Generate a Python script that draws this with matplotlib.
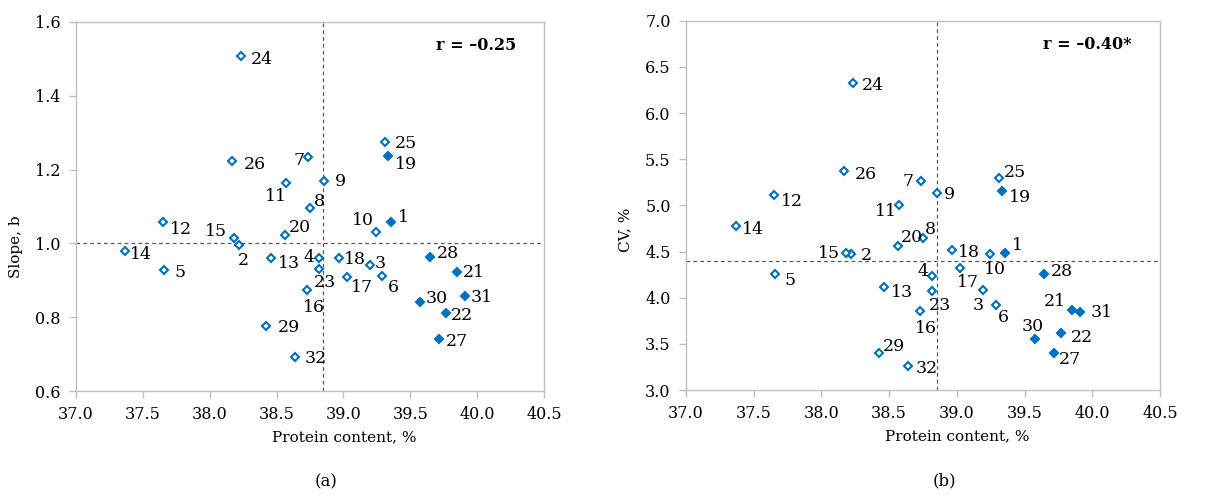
import numpy as np
import matplotlib
matplotlib.use('Agg')
import matplotlib.pyplot as plt

# genotype numbers and values
ids = list(range(1, 33))
protein = [39.355, 38.222, 39.196, 38.817, 37.658, 39.290, 38.735, 38.747,
           38.852, 39.243, 38.574, 37.650, 38.460, 37.366, 38.178, 38.728,
           39.024, 38.966, 39.335, 38.565, 39.850, 39.767, 38.818, 38.236,
           39.308, 38.170, 39.715, 39.646, 38.424, 39.576, 39.911, 38.636]
slope = [1.058, 0.997, 0.941, 0.961, 0.929, 0.912, 1.234, 1.096,
         1.170, 1.032, 1.164, 1.058, 0.961, 0.979, 1.015, 0.873,
         0.909, 0.961, 1.236, 1.022, 0.922, 0.811, 0.931, 1.507,
         1.276, 1.223, 0.741, 0.963, 0.776, 0.841, 0.857, 0.692]
cv = [4.488, 4.470, 4.083, 4.235, 4.260, 3.918, 5.264, 4.643,
      5.134, 4.470, 5.004, 5.113, 4.119, 4.773, 4.481, 3.853,
      4.318, 4.517, 5.156, 4.563, 3.870, 3.621, 4.069, 6.326,
      5.300, 5.369, 3.401, 4.253, 3.401, 3.553, 3.845, 3.257]
filled_ids = [1, 19, 21, 22, 27, 28, 30, 31]
mean_protein = 38.85
mean_slope = 1.0
mean_cv = 4.40
r_texts = ['r = \u20130.25', 'r = \u20130.40*']

# label placement: (ha, dx px, dy px down)
offs_a = {1: ('l', 7, -5), 2: ('c', 4, 16), 3: ('l', 5, -2), 4: ('r', -4, 0),
          5: ('l', 11, 3), 6: ('l', 6, 12), 7: ('r', -3, 3), 8: ('l', 4, -6),
          9: ('l', 11, 1), 10: ('r', -2, -11), 11: ('r', 0, 14), 12: ('l', 7, 7),
          13: ('l', 7, 6), 14: ('l', 5, 3), 15: ('r', -6, -6), 16: ('c', 7, 17),
          17: ('l', 4, 10), 18: ('l', 5, 2), 19: ('l', 7, 8), 20: ('l', 4, -8),
          21: ('l', 6, 0), 22: ('l', 5, 2), 23: ('l', -5, 14), 24: ('l', 10, 3),
          25: ('l', 10, 2), 26: ('l', 11, 3), 27: ('l', 7, 2), 28: ('l', 7, -4),
          29: ('l', 11, 1), 30: ('l', 5, -4), 31: ('l', 5, 1), 32: ('l', 10, 1)}
offs_b = {1: ('l', 7, -7), 2: ('l', 9, 1), 3: ('r', 0, 15), 4: ('r', -4, -5),
          5: ('l', 9, 7), 6: ('l', 2, 12), 7: ('r', -7, 0), 8: ('l', 2, -9),
          9: ('l', 7, 1), 10: ('l', -6, 15), 11: ('r', -2, 6), 12: ('l', 7, 7),
          13: ('l', 7, 6), 14: ('l', 6, 3), 15: ('r', -5, 0), 16: ('l', -5, 17),
          17: ('l', -3, 14), 18: ('l', 6, 2), 19: ('l', 7, 6), 20: ('l', 3, -8),
          21: ('r', -6, -8), 22: ('l', 10, 5), 23: ('l', -3, 14), 24: ('l', 8, 2),
          25: ('l', 5, -5), 26: ('l', 10, 3), 27: ('l', 5, 6), 28: ('l', 6, -3),
          29: ('l', 4, -7), 30: ('l', -13, -13), 31: ('l', 10, 0), 32: ('l', 8, 2)}

plt.rcParams['font.family'] = ['DejaVu Serif']
blue = '#0070C0'
grey = '#BFBFBF'
ha_map = {'l': 'left', 'r': 'right', 'c': 'center'}

fig = plt.figure(figsize=(12.18, 4.95), dpi=100)
ax1 = fig.add_axes([0.0624, 0.210, 0.3842, 0.7456])
ax2 = fig.add_axes([0.5632, 0.212, 0.3892, 0.746])


def panel(ax, yvals, ymean, ylim, ystep, ylabel, ylab_y, offs, rtext, tag, tag_x):
    for i, x, y in zip(ids, protein, yvals):
        fc = blue if i in filled_ids else 'white'
        ax.plot(x, y, marker='D', ms=4.4, mfc=fc, mec=blue, mew=1.5,
                linestyle='none', zorder=3)
        ha, dx, dy = offs[i]
        ax.annotate(str(i), (x, y), xytext=(dx * 0.72, -dy * 0.72),
                    textcoords='offset points', ha=ha_map[ha], va='center',
                    fontsize=12.5, color='black', zorder=4)
    ax.axvline(mean_protein, color='#595959', ls=(0, (3, 2.5)), lw=0.9, zorder=1)
    ax.axhline(ymean, color='#595959', ls=(0, (3, 2.5)), lw=0.9, zorder=1)
    ax.set_xlim(37.0, 40.5)
    ax.set_ylim(*ylim)
    ax.set_xticks(np.arange(37.0, 40.51, 0.5))
    ax.set_yticks(np.arange(ylim[0], ylim[1] + 1e-6, ystep))
    ax.xaxis.set_major_formatter(matplotlib.ticker.FormatStrFormatter('%.1f'))
    ax.yaxis.set_major_formatter(matplotlib.ticker.FormatStrFormatter('%.1f'))
    for s in ax.spines.values():
        s.set_color(grey)
        s.set_linewidth(1.0)
    ax.tick_params(direction='out', length=5, width=1, color=grey,
                   labelsize=11.5, pad=6)
    ax.set_xlabel('Protein content, %', fontsize=11)
    ax.xaxis.set_label_coords(0.573, -0.105)
    ax.set_ylabel(ylabel, fontsize=11)
    ax.yaxis.set_label_coords(-0.113, ylab_y)
    ax.text(0.94, 0.935, rtext, transform=ax.transAxes, ha='right', va='center',
            fontsize=11.5, fontweight='bold')
    ax.text(tag_x, -0.245, tag, transform=ax.transAxes, ha='center', va='center',
            fontsize=12)


panel(ax1, slope, mean_slope, (0.6, 1.6), 0.2, 'Slope, b', 0.39, offs_a,
      r_texts[0], '(a)', 0.534)
panel(ax2, cv, mean_cv, (3.0, 7.0), 0.5, 'CV, %', 0.435, offs_b,
      r_texts[1], '(b)', 0.546)

fig.savefig('out.png', dpi=100)
